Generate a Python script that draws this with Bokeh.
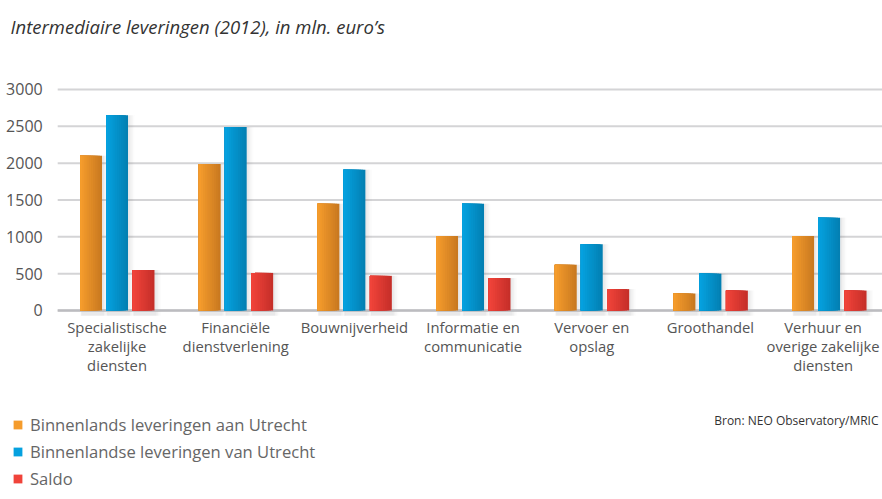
from bokeh.plotting import figure
from bokeh.models import Range1d, Legend, LegendItem, Label, ColumnDataSource
from bokeh.transform import dodge
from bokeh.core.properties import value
from bokeh.embed import file_html
from bokeh.resources import INLINE

# ---- data ----
categories = [
    "Specialistische\nzakelijke\ndiensten",
    "Financiële\ndienstverlening",
    "Bouwnijverheid",
    "Informatie en\ncommunicatie",
    "Vervoer en\nopslag",
    "Groothandel",
    "Verhuur en\noverige zakelijke\ndiensten",
]
binnenlands_aan = [2100, 1990, 1450, 1010, 620, 230, 1010]
binnenlands_van = [2650, 2490, 1910, 1450, 900, 500, 1260]
saldo = [550, 510, 470, 440, 290, 270, 270]
series_labels = [
    "Binnenlands leveringen aan Utrecht",
    "Binnenlandse leveringen van Utrecht",
    "Saldo",
]
y_ticks = [0, 500, 1000, 1500, 2000, 2500, 3000]
y_tick_labels = [str(t) for t in y_ticks]
title_text = "Intermediaire leveringen (2012), in mln. euro\u2019s"
source_text = "Bron: NEO Observatory/MRIC"

# ---- styling ----
FONT = "Open Sans"
gradients = [("#f59c2c", "#c97920"), ("#05a1df", "#0380b3"), ("#f0433a", "#c62f29")]
offsets = [-0.219, 0.0, 0.223]
bar_w = 0.185
n_steps = 10
# small pixel nudge so the last (edge) category label stays inside the canvas
label_nudge = [0, 0, 0, 0, 0, 0, -6]

idx = list(range(len(categories)))
source = ColumnDataSource(dict(idx=idx, cat=categories, aan=binnenlands_aan,
                               van=binnenlands_van, saldo=saldo, nudge=label_nudge))
tick_src = ColumnDataSource(dict(y=y_ticks, label=y_tick_labels))

# the frame covers the whole canvas; ranges chosen so that the plot area
# (category band -0.5 .. 6.5, values 0 .. 3000) lands where the reference has it
p = figure(width=882, height=499,
           x_range=Range1d(-0.982, 6.45), y_range=Range1d(-2566, 4208),
           x_axis_location=None, y_axis_location=None,
           output_backend="svg", toolbar_location=None, min_border=0)
p.outline_line_color = None
p.background_fill_color = "white"
p.border_fill_color = "white"
p.xgrid.visible = False
p.ygrid.visible = False
X_LEFT, X_RIGHT = -0.5, len(categories) - 0.5

# grid lines
p.segment(x0=X_LEFT, x1=X_RIGHT, y0="y", y1="y", source=tick_src,
          line_color="#d4d4d6", line_width=2)
# y tick labels
p.text(x=X_LEFT, y="y", text="label", source=tick_src, x_offset=-15,
       text_align="right", text_baseline="middle", text_font=value(FONT),
       text_font_size="16px", text_color="#555555")


def hex2rgb(h):
    h = h.lstrip("#")
    return tuple(int(h[i:i + 2], 16) for i in (0, 2, 4))


def mix(c1, c2, t):
    a, b = hex2rgb(c1), hex2rgb(c2)
    return "#%02x%02x%02x" % tuple(int(round(a[i] + (b[i] - a[i]) * t)) for i in range(3))


# soft shadows
for col, off in zip(["aan", "van", "saldo"], offsets):
    for k, a in enumerate([0.05, 0.04, 0.03, 0.02]):
        p.vbar(x=dodge("idx", off + 0.01 + k * 0.008, range=p.x_range), top=col,
               bottom=-70, width=bar_w + 0.012 + k * 0.01, source=source,
               fill_color="#5a5a6e", fill_alpha=a, line_color=None)

# baseline
p.segment(x0=X_LEFT, x1=X_RIGHT, y0=0, y1=0, line_color="#bcbcc0", line_width=2.5)

# bars with a left-to-right gradient (stacked left-anchored layers)
legend_renderers = []
for col, off, (c1, c2) in zip(["aan", "van", "saldo"], offsets, gradients):
    last = None
    for k in range(n_steps):
        frac = (n_steps - k) / n_steps
        wk = bar_w * frac
        o = off - bar_w / 2 + wk / 2
        t = 1 - k / (n_steps - 1)
        last = p.vbar(x=dodge("idx", o, range=p.x_range), top=col, bottom=0, width=wk,
                      source=source, fill_color=mix(c1, c2, t), line_color=None)
    legend_renderers.append(last)

# category labels
p.text(x="idx", y=0, text="cat", source=source, x_offset="nudge", y_offset=7,
       text_align="center", text_baseline="top", text_font=value(FONT),
       text_font_size="14.8px", text_color="#555555", text_line_height=0.95)

# title & source
p.add_layout(Label(x=10, y=473, x_units="screen", y_units="screen", text=title_text,
                   text_font=FONT, text_font_size="18.5px", text_font_style="italic",
                   text_color="#333333", text_baseline="middle"))
p.add_layout(Label(x=878, y=79, x_units="screen", y_units="screen", text=source_text,
                   text_font=FONT, text_font_size="12px", text_color="#333333",
                   text_baseline="middle", text_align="right"))

legend = Legend(items=[LegendItem(label=l, renderers=[r])
                       for l, r in zip(series_labels, legend_renderers)],
                location=(12, 9), orientation="vertical",
                border_line_color=None, background_fill_alpha=0,
                label_text_font=FONT, label_text_font_size="16.6px",
                label_text_color="#666666", glyph_width=11, glyph_height=11,
                label_standoff=7, spacing=4, padding=0, margin=0, label_height=20)
p.add_layout(legend, "center")

open("out.html", "w").write(file_html(p, INLINE))
